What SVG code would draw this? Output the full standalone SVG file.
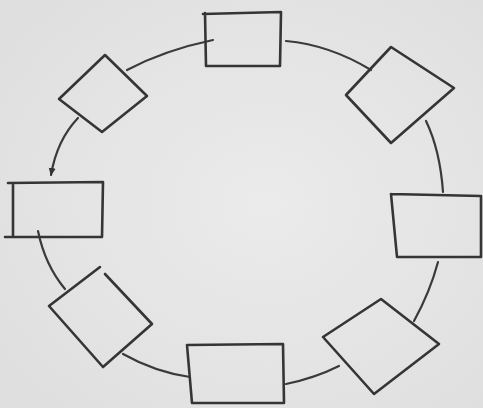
<svg xmlns="http://www.w3.org/2000/svg" width="483" height="408" viewBox="0 0 483 408">
<defs>
<radialGradient id="paper" cx="0.55" cy="0.5" r="0.75">
<stop offset="0" stop-color="#ebebeb"/>
<stop offset="1" stop-color="#dedede"/>
</radialGradient>
<marker id="ah" viewBox="0 0 10 10" refX="8" refY="5" markerWidth="4" markerHeight="4" orient="auto">
<path d="M0,1 L9,5 L0,9 z" fill="#333"/>
</marker>
<style>
.n{fill:none;stroke:#353535;stroke-width:2.6;stroke-linejoin:round;stroke-linecap:round}
.c{fill:none;stroke:#3a3a3a;stroke-width:2.2;stroke-linecap:round}
</style>
</defs>
<rect width="483" height="408" fill="url(#paper)"/>
<g id="connectors">
<path class="c" d="M213,40 Q165,50 127,70"/>
<path class="c" d="M78,118 Q57,140 51,175" marker-end="url(#ah)"/>
<path class="c" d="M38,231 Q45,265 65,289"/>
<path class="c" d="M123,354 Q155,372 190,377"/>
<path class="c" d="M286,384 Q315,378 339,366"/>
<path class="c" d="M414,321 Q430,292 438,262"/>
<path class="c" d="M443,192 Q440,150 426,121"/>
<path class="c" d="M371,70 Q330,45 286,41"/>
</g>
<g id="node-top"><path class="n" d="M203,14 L281,12 L280,66 L206,66 L205,13"/></g>
<g id="node-top-right"><path class="n" d="M391,47 L454,88 L391,143 L346,95 Z"/></g>
<g id="node-right"><path class="n" d="M391,194 L481,196 L481,257 L397,257 L391,194"/></g>
<g id="node-bottom-right"><path class="n" d="M381,299 L439,344 L374,394 L323,337 Z"/></g>
<g id="node-bottom"><path class="n" d="M187,345 L283,344 L284,403 L192,403 L187,345"/></g>
<g id="node-bottom-left"><path class="n" d="M100,267 L49,306 L103,367 L152,324 L105,274"/></g>
<g id="node-left"><path class="n" d="M8,183 L103,182 L102,237 L5,237 M13,183 L13,236"/></g>
<g id="node-top-left"><path class="n" d="M105,55 L147,96 L102,132 L59,99 Z"/></g>
</svg>
